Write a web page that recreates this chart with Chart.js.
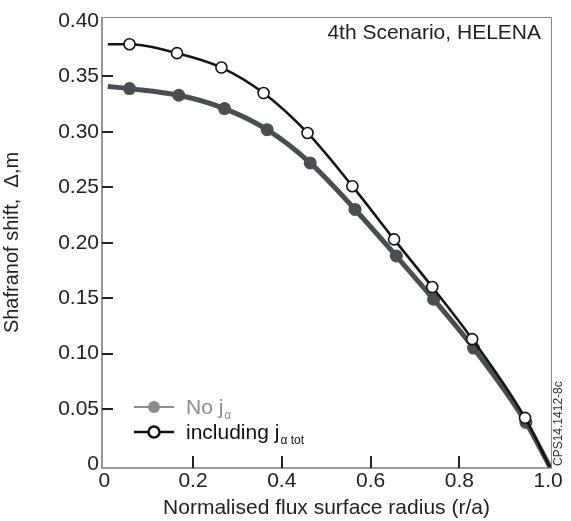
<!DOCTYPE html>
<html><head><meta charset="utf-8">
<script src="https://cdn.jsdelivr.net/npm/chart.js@4"></script>
<style>html,body{margin:0;padding:0;background:#fff}#wrap{width:571px;height:521px}</style>
</head><body><div id="wrap"><canvas id="c" width="571" height="521"></canvas></div>
<script>
// x positions (r/a) and values (Δ, m)
const xNoJ = [0.008, 0.057, 0.168, 0.271, 0.367, 0.464, 0.565, 0.658, 0.742, 0.832, 0.950, 1.005];
const yNoJ = [0.341, 0.339, 0.333, 0.321, 0.302, 0.272, 0.230, 0.188, 0.149, 0.105, 0.038, -0.003];
const xInc = [0.008, 0.057, 0.164, 0.264, 0.359, 0.458, 0.559, 0.653, 0.739, 0.829, 0.948, 1.005];
const yInc = [0.379, 0.379, 0.371, 0.358, 0.335, 0.299, 0.251, 0.203, 0.160, 0.113, 0.042, -0.003];
const xTicks = [0, 0.2, 0.4, 0.6, 0.8, 1.0];
const yTicks = [0, 0.05, 0.10, 0.15, 0.20, 0.25, 0.30, 0.35, 0.40];
const xTickLabels = ["0", "0.2", "0.4", "0.6", "0.8", "1.0"];
const yTickLabels = ["0", "0.05", "0.10", "0.15", "0.20", "0.25", "0.30", "0.35", "0.40"];

const FONT = "'Liberation Sans', Arial, Helvetica, sans-serif";
const GRAY = '#4b4e51';
const AXIS = '#7c7c7c';

function pts(xs, ys){ return xs.map((x,i)=>({x:x, y:ys[i]})); }
function radii(n, r){ return Array.from({length:n}, (_,i)=> (i===0||i===n-1)?0:r); }

const decor = {
  id:'decor',
  afterDraw(chart){
    const ctx = chart.ctx, a = chart.chartArea;
    const xs = chart.scales.x, ys = chart.scales.y;
    ctx.save();
    // frame
    ctx.strokeStyle = '#8a8a8a'; ctx.lineWidth = 1;
    ctx.beginPath(); ctx.moveTo(a.left, a.top+0.5); ctx.lineTo(a.right+0.5, a.top+0.5); ctx.lineTo(a.right+0.5, a.bottom); ctx.stroke();
    ctx.strokeStyle = AXIS; ctx.lineWidth = 1.6;
    ctx.beginPath(); ctx.moveTo(a.left, a.top); ctx.lineTo(a.left, a.bottom); ctx.lineTo(a.right+1, a.bottom); ctx.stroke();
    // inward ticks
    ctx.fillStyle = '#222';
    for (let i = 1; i < yTicks.length - 1; i++) {
      const pp = Math.round(ys.getPixelForValue(yTicks[i]));
      ctx.fillRect(a.left, pp - 1, 11, 2);
    }
    for (let i = 1; i < xTicks.length - 1; i++) {
      const pp = Math.round(xs.getPixelForValue(xTicks[i]));
      ctx.fillRect(pp - 1, a.bottom - 12, 2, 12);
    }
    // annotation
    ctx.fillStyle = '#222'; ctx.font = '21px ' + FONT; ctx.textAlign = 'right'; ctx.textBaseline = 'middle';
    ctx.fillText('4th Scenario, HELENA', a.right - 10, a.top + 16);
    // side code
    ctx.save(); ctx.translate(a.right + 8, a.bottom - 2); ctx.rotate(-Math.PI/2);
    ctx.font = '12px ' + FONT; ctx.textAlign = 'left'; ctx.fillStyle = '#333';
    ctx.fillText('CPS14.1412-8c', 0, 0); ctx.restore();
    // legend
    const lx = 134, y1 = 407, y2 = 432;
    ctx.lineWidth = 2; ctx.strokeStyle = '#8c8c8c';
    ctx.beginPath(); ctx.moveTo(lx, y1); ctx.lineTo(lx+40, y1); ctx.stroke();
    ctx.fillStyle = '#8c8c8c'; ctx.beginPath(); ctx.arc(lx+20, y1, 6, 0, Math.PI*2); ctx.fill();
    ctx.lineWidth = 2.5; ctx.strokeStyle = '#111';
    ctx.beginPath(); ctx.moveTo(lx, y2); ctx.lineTo(lx+40, y2); ctx.stroke();
    ctx.fillStyle = '#fff'; ctx.lineWidth = 2.5; ctx.beginPath(); ctx.arc(lx+20, y2, 5.5, 0, Math.PI*2); ctx.fill(); ctx.stroke();
    ctx.textAlign = 'left'; ctx.textBaseline = 'alphabetic';
    ctx.font = '21px ' + FONT; ctx.fillStyle = '#8c8c8c';
    ctx.fillText('No j', 186, y1 + 7);
    let w = ctx.measureText('No j').width;
    ctx.font = '12px ' + FONT; ctx.fillText('α', 187 + w, y1 + 12);
    ctx.font = '21px ' + FONT; ctx.fillStyle = '#111';
    ctx.fillText('including j', 186, y2 + 7);
    w = ctx.measureText('including j').width;
    ctx.font = '12px ' + FONT; ctx.fillText('α tot', 187 + w, y2 + 12);
    ctx.restore();
  }
};

new Chart(document.getElementById('c'), {
  type:'line',
  data:{ datasets:[
    { label:'including j_α tot', data:pts(xInc,yInc), borderColor:'#151515', borderWidth:2.6,
      pointRadius:radii(xInc.length,5.5), pointBackgroundColor:'#fff', pointBorderColor:'#151515', pointBorderWidth:1.6,
      tension:0.4, cubicInterpolationMode:'monotone', order:0 },
    { label:'No j_α', data:pts(xNoJ,yNoJ), borderColor:GRAY, borderWidth:5,
      pointRadius:radii(xNoJ.length,6.5), pointBackgroundColor:GRAY, pointBorderColor:GRAY, pointBorderWidth:0,
      tension:0.4, cubicInterpolationMode:'monotone', order:1 }
  ]},
  options:{
    responsive:false, animation:false, devicePixelRatio:1,
    layout:{ padding:{ top:17, right:20, left:0, bottom:0 } },
    plugins:{ legend:{display:false}, tooltip:{enabled:false} },
    scales:{
      x:{ type:'linear', min:-0.005, max:1.0065,
        afterBuildTicks(s){ s.ticks = xTicks.map(v=>({value:v})); },
        afterFit(s){ s.height = 53; },
        grid:{ display:false, drawTicks:false }, border:{ display:false },
        ticks:{ padding:1, color:'#222', font:{ family:FONT, size:21 }, maxRotation:0, autoSkip:false,
          callback:(v,i)=>xTickLabels[i] },
        title:{ display:true, text:'Normalised flux surface radius (r/a)', color:'#222', font:{ family:FONT, size:21 }, padding:{top:0,bottom:0} }
      },
      y:{ type:'linear', min:-0.0032, max:0.4036,
        afterBuildTicks(s){ s.ticks = yTicks.map(v=>({value:v})); },
        afterFit(s){ s.width = 102; },
        grid:{ display:false, drawTicks:false }, border:{ display:false },
        ticks:{ padding:3, color:'#222', font:{ family:FONT, size:21 }, autoSkip:false,
          callback:(v,i)=>yTickLabels[i] },
        title:{ display:true, text:'Shafranof shift,  Δ,m', color:'#222', font:{ family:FONT, size:20 }, padding:{top:0,bottom:4} }
      }
    }
  },
  plugins:[decor]
});
</script></body></html>
